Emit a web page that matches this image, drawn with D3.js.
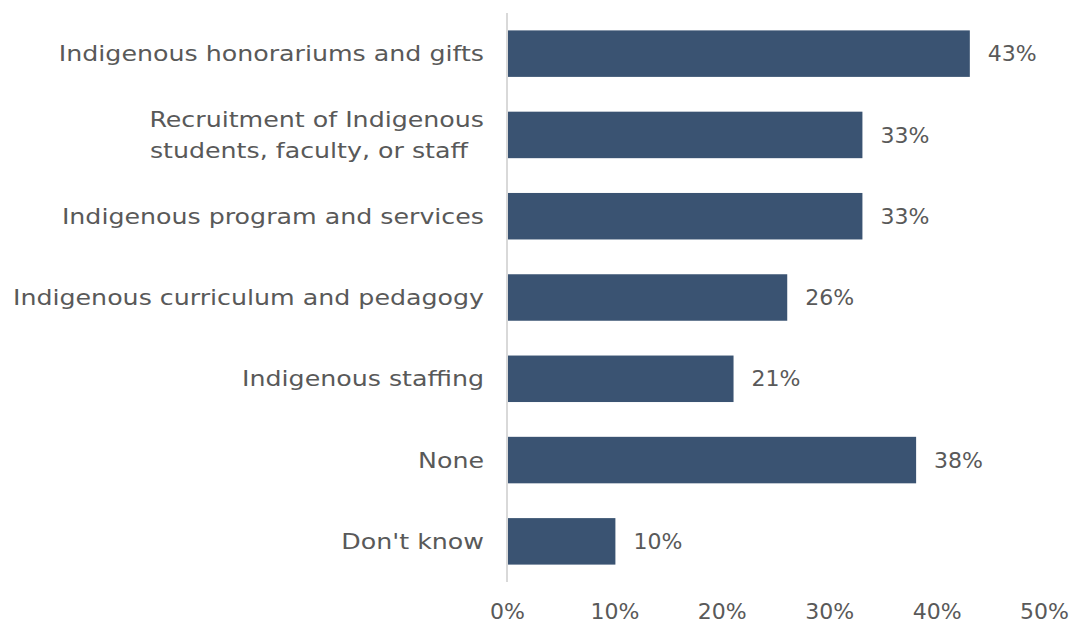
<!DOCTYPE html>
<html>
<head>
<meta charset="utf-8">
<script src="https://cdn.jsdelivr.net/npm/d3@7"></script>
<style>
  html, body { margin: 0; padding: 0; background: #ffffff; }
  svg text { font-family: "DejaVu Sans", sans-serif; fill: #595959; }
</style>
</head>
<body>
<svg id="chart" width="1090" height="624"></svg>
<script>
// Survey categories (top to bottom) and share of respondents, in percent
const categories = [
  ["Indigenous honorariums and gifts"],
  ["Recruitment of Indigenous", "students, faculty, or staff\u00a0\u00a0"],
  ["Indigenous program and services"],
  ["Indigenous curriculum and pedagogy"],
  ["Indigenous staffing"],
  ["None"],
  ["Don't know"]
];
const values = [43, 33, 33, 26, 21, 38, 10];
const xTicks = [0, 10, 20, 30, 40, 50];

const svg = d3.select("#chart");
const width = 1090, height = 624;
const margin = { left: 508, right: 45, top: 13, bottom: 42 };
const fontSize = 22;
const labelStretch = 1.15;   // wide-set lettering for the category names

const keys = categories.map((c, i) => i);

const x = d3.scaleLinear()
  .domain([0, 50])
  .range([margin.left, width - margin.right]);

const y = d3.scaleBand()
  .domain(keys)
  .range([margin.top, height - margin.bottom])
  .paddingInner(0.428)
  .paddingOuter(0.214);

// Bars
svg.append("g")
  .selectAll("rect")
  .data(values)
  .join("rect")
  .attr("x", x(0))
  .attr("y", (d, i) => y(i))
  .attr("width", d => x(d) - x(0))
  .attr("height", y.bandwidth())
  .attr("fill", "#3a5372");

// Vertical baseline at 0%
svg.append("line")
  .attr("x1", x(0) - 1).attr("x2", x(0) - 1)
  .attr("y1", margin.top).attr("y2", height - margin.bottom)
  .attr("stroke", "#d9d9d9")
  .attr("stroke-width", 2);

// Value labels
svg.append("g")
  .selectAll("text")
  .data(values)
  .join("text")
  .attr("x", d => x(d) + 18)
  .attr("y", (d, i) => y(i) + y.bandwidth() / 2)
  .attr("dy", "0.35em")
  .attr("font-size", fontSize)
  .text(d => d + "%");

// Category labels (right-aligned, multi-line where needed)
const lineH = 31;
const labelRight = 484;
const catG = svg.append("g");
categories.forEach((lines, i) => {
  const cy = y(i) + y.bandwidth() / 2;
  const t = catG.append("text")
    .attr("text-anchor", "end")
    .attr("font-size", fontSize)
    .attr("transform", `translate(${labelRight},${cy - (lines.length - 1) * lineH / 2}) scale(${labelStretch},1)`)
    .style("white-space", "pre");
  lines.forEach((ln, j) => {
    t.append("tspan")
      .attr("x", 0)
      .attr("dy", j === 0 ? "0.35em" : lineH)
      .text(ln);
  });
});

// X axis tick labels
const xAxis = d3.axisBottom(x)
  .tickValues(xTicks)
  .tickFormat(d => d + "%")
  .tickSize(0)
  .tickPadding(0);
const gx = svg.append("g")
  .attr("transform", `translate(-1, ${height - 13})`)
  .call(xAxis);
gx.select(".domain").remove();
gx.selectAll("text")
  .attr("font-size", fontSize)
  .attr("dy", "0.35em")
  .attr("y", 0)
  .style("font-family", "DejaVu Sans, sans-serif")
  .style("fill", "#595959");
</script>
</body>
</html>
